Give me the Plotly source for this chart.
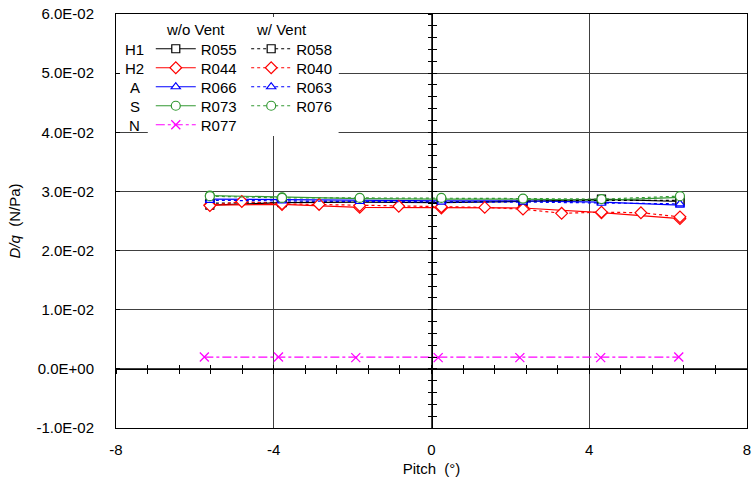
import plotly.graph_objects as go

# Pitch angles (deg) of the measured points
PITCH = [-5.62, -3.79, -1.82, 0.25, 2.32, 4.31, 6.30]
PITCH_R040 = [-5.62, -4.81, -3.79, -2.85, -1.82, -0.83, 0.25, 1.35, 2.32, 3.30, 4.31, 5.31, 6.30]
PITCH_N = [-5.76, -3.88, -1.92, 0.17, 2.24, 4.29, 6.27]

# D/q (N/Pa) — without vent
R055 = [0.0277, 0.0281, 0.0282, 0.0281, 0.0283, 0.0287, 0.0283]
R044 = [0.0277, 0.0278, 0.0273, 0.0272, 0.0272, 0.0264, 0.0254]
R066 = [0.0287, 0.0286, 0.0285, 0.0284, 0.0284, 0.0282, 0.0277]
R073 = [0.0293, 0.0290, 0.0288, 0.0287, 0.0287, 0.0285, 0.0290]
R077 = [0.0020, 0.0020, 0.0019, 0.0019, 0.0019, 0.0019, 0.0020]

# D/q (N/Pa) — with vent
R058 = [0.0280, 0.0282, 0.0283, 0.0282, 0.0284, 0.0285, 0.0285]
R040 = [0.0276, 0.0283, 0.0279, 0.0278, 0.0276, 0.0275, 0.0274, 0.0273, 0.0270, 0.0263, 0.0265, 0.0264, 0.0257]
R063 = [0.0285, 0.0284, 0.0283, 0.0282, 0.0282, 0.0280, 0.0279]
R076 = [0.0292, 0.0289, 0.0289, 0.0289, 0.0288, 0.0287, 0.0292]

ROW_LABELS = ["H1", "H2", "A", "S", "N"]
X_TICKS = [-8, -4, 0, 4, 8]
Y_TICKS = [-0.01, 0.0, 0.01, 0.02, 0.03, 0.04, 0.05, 0.06]
Y_TICK_TEXT = [f"{v:.1E}" for v in Y_TICKS]

FONT = "Arial, Liberation Sans, sans-serif"
FS = 15
BLACK, RED, BLUE, GREEN, MAGENTA = "#000000", "#FF0000", "#0000FF", "#339933", "#FF00FF"

# legend block geometry (pixels inside the 755x483 page)
PLOT_L, PLOT_T, PLOT_W, PLOT_H = 116, 14, 635, 414
ROW_PX = [49, 68, 87, 106, 125]
COL_PX = [151, 247]


def px_x(px):
    return (px - PLOT_L) / PLOT_W


def px_y(py):
    return 1 - (py - PLOT_T) / PLOT_H


fig = go.Figure()
legend_defs = {}


def add(name, xs, ys, color, symbol, dash, col, row, msize=8):
    key = "legend" if not legend_defs else f"legend{len(legend_defs) + 1}"
    legend_defs[key] = dict(
        x=px_x(COL_PX[col]), y=px_y(ROW_PX[row]), xanchor="left", yanchor="middle",
        bgcolor="rgba(0,0,0,0)", borderwidth=0, itemwidth=40,
        font=dict(family=FONT, size=FS, color="black"), itemsizing="trace",
    )
    if symbol == "x-thin":
        marker = dict(symbol=symbol, size=msize + 1, line=dict(color=color, width=1.3))
    else:
        marker = dict(symbol=symbol, size=msize, color="white",
                      line=dict(color=color, width=1.2))
    fig.add_trace(go.Scatter(
        x=xs, y=ys, name=name, mode="lines+markers",
        line=dict(color=color, width=1.2, dash=dash),
        marker=marker, legend=key,
    ))


# w/o Vent (solid) and w/ Vent (dotted)
add("R055", PITCH, R055, BLACK, "square", "solid", 0, 0)
add("R044", PITCH, R044, RED, "diamond", "solid", 0, 1, 9)
add("R066", PITCH, R066, BLUE, "triangle-up", "solid", 0, 2)
add("R073", PITCH, R073, GREEN, "circle", "solid", 0, 3, 9)
add("R077", PITCH_N, R077, MAGENTA, "x-thin", "dashdot", 0, 4)
add("R058", PITCH, R058, BLACK, "square", "dot", 1, 0)
add("R040", PITCH_R040, R040, RED, "diamond", "dot", 1, 1, 9)
add("R063", PITCH, R063, BLUE, "triangle-up", "dot", 1, 2)
add("R076", PITCH, R076, GREEN, "circle", "dot", 1, 3, 9)

fig.update_layout(
    width=755, height=483,
    margin=dict(l=PLOT_L, r=755 - PLOT_L - PLOT_W, t=PLOT_T, b=483 - PLOT_T - PLOT_H),
    paper_bgcolor="white", plot_bgcolor="white",
    font=dict(family=FONT, size=FS, color="black"),
    showlegend=True,
    xaxis=dict(
        range=[-8, 8], tickvals=X_TICKS, ticktext=[str(v) for v in X_TICKS],
        showgrid=True, gridcolor="#404040", gridwidth=1,
        zeroline=False, showline=True, linecolor="black", linewidth=1, mirror=True,
        ticks="", ticklabelstandoff=8, ticklabeloverflow="allow",
        title=dict(text="Pitch  (°)", standoff=6, font=dict(size=FS)),
        tickfont=dict(size=FS),
    ),
    yaxis=dict(
        range=[-0.01, 0.06], tickvals=Y_TICKS, ticktext=Y_TICK_TEXT,
        showgrid=True, gridcolor="#404040", gridwidth=1,
        zeroline=False, showline=True, linecolor="black", linewidth=1, mirror=True,
        ticks="inside", ticklen=4, tickcolor="black", ticklabelstandoff=18,
        ticklabeloverflow="allow",
        title=dict(text="<i>D/q</i>  (N/Pa)", standoff=12, font=dict(size=FS)),
        tickfont=dict(size=FS),
    ),
    # crossing axes at zero with fine tick marks
    xaxis2=dict(overlaying="x", anchor="free", position=1 / 7, range=[-8, 8],
                tickmode="linear", tick0=0, dtick=0.8, ticks="outside", ticklen=4,
                tickcolor="black", showticklabels=False, showgrid=False, zeroline=False,
                showline=True, linecolor="black", linewidth=1),
    xaxis3=dict(overlaying="x", anchor="free", position=1 / 7, range=[-8, 8],
                tickmode="linear", tick0=0, dtick=0.8, ticks="inside", ticklen=4,
                tickcolor="black", showticklabels=False, showgrid=False, zeroline=False,
                showline=False),
    yaxis2=dict(overlaying="y", anchor="free", position=0.5, range=[-0.01, 0.06],
                tickmode="linear", tick0=0, dtick=0.002, ticks="outside", ticklen=4,
                tickcolor="black", showticklabels=False, showgrid=False, zeroline=False,
                showline=True, linecolor="black", linewidth=1),
    yaxis3=dict(overlaying="y", anchor="free", position=0.5, range=[-0.01, 0.06],
                tickmode="linear", tick0=0, dtick=0.002, ticks="inside", ticklen=4,
                tickcolor="black", showticklabels=False, showgrid=False, zeroline=False,
                showline=False),
    **legend_defs,
)

# empty traces so the zero-line tick axes are rendered
for xr, yr in (("x2", "y"), ("x3", "y"), ("x", "y2"), ("x", "y3")):
    fig.add_trace(go.Scatter(x=[None], y=[None], xaxis=xr, yaxis=yr,
                             showlegend=False, hoverinfo="skip"))

# white panel behind the legend block
fig.add_shape(type="rect", xref="paper", yref="paper", x0=px_x(120), x1=px_x(340),
              y0=px_y(128), y1=px_y(17), fillcolor="white", line_width=0, layer="above")
fig.add_shape(type="rect", xref="paper", yref="paper", x0=px_x(148), x1=px_x(340),
              y0=px_y(136), y1=px_y(17), fillcolor="white", line_width=0, layer="above")

# column headers and row labels of the legend block
for text, px in (("w/o Vent", 196), ("w/ Vent", 283)):
    fig.add_annotation(x=px_x(px), y=px_y(29), xref="paper", yref="paper", text=text,
                       xanchor="center", yanchor="middle", showarrow=False,
                       font=dict(size=FS))
for lab, py in zip(ROW_LABELS, ROW_PX):
    fig.add_annotation(x=px_x(135), y=px_y(py), xref="paper", yref="paper",
                       text=lab, xanchor="center", yanchor="middle", showarrow=False,
                       font=dict(size=FS))

fig.write_html("out.html")
